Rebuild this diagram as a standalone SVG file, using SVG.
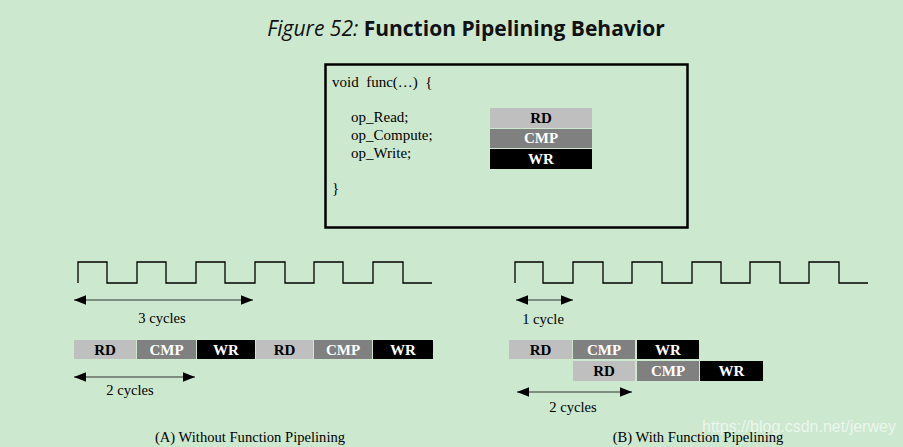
<svg xmlns="http://www.w3.org/2000/svg" width="903" height="447" viewBox="0 0 903 447">
<style>
.t{font-family:"Liberation Serif","Times New Roman",serif;font-size:15px;fill:#000}
.c{font-family:"Liberation Serif","Times New Roman",serif;font-size:14.6px;fill:#000;text-anchor:middle}
.b{font-family:"Liberation Serif","Times New Roman",serif;font-size:15px;font-weight:bold;text-anchor:middle}
.rd{fill:#bfbfbf}.cmp{fill:#808080}.wr{fill:#000}
.clk{fill:none;stroke:#000;stroke-width:1.3}
.arr{stroke:#7f8c80;stroke-width:2;marker-start:url(#ah);marker-end:url(#ah)}
</style>
<defs>
<marker id="ah" viewBox="0 0 10 8" refX="10" refY="4" markerWidth="6" markerHeight="4.8" orient="auto-start-reverse" markerUnits="strokeWidth">
<path d="M0,0L10,4L0,8z" fill="#000"/>
</marker>
</defs>
<rect width="903" height="447" fill="#cce8cf"/>
<text x="466" y="36" text-anchor="middle" style="font-family:'Open Sans','Noto Sans',sans-serif;font-size:21px;fill:#111"><tspan font-style="italic">Figure 52: </tspan><tspan font-weight="bold">Function Pipelining Behavior</tspan></text>

<g id="code-box">
<rect x="325.5" y="64.5" width="362" height="163" fill="none" stroke="#000" stroke-width="2.5"/>
<text class="t" x="332" y="87" xml:space="preserve">void  func(…)  {</text>
<text class="t" x="351" y="122">op_Read;</text>
<text class="t" x="351" y="140">op_Compute;</text>
<text class="t" x="351" y="158">op_Write;</text>
<text class="t" x="332" y="193">}</text>
</g>
<g id="legend">
<rect class="rd" x="490" y="108" width="102" height="20"/><text class="b" x="541" y="122.5" fill="#000">RD</text>
<rect class="cmp" x="490" y="129" width="102" height="19"/><text class="b" x="541" y="143" fill="#fff">CMP</text>
<rect class="wr" x="490" y="149" width="102" height="20"/><text class="b" x="541" y="163.5" fill="#fff">WR</text>
</g>

<g id="clock-a">
<path class="clk" d="M78,283V262H107V283H137V262H166V283H196V262H225V283H255V262H285V283H314V262H343V283H373V262H403V283H432"/>
</g>
<g id="clock-b">
<path class="clk" d="M515,283V262H543V283H573V262H603V283H632V262H662V283H692V262H721V283H750V262H780V283H809V262H839V283H868"/>
</g>

<g id="connectors">
<line class="arr" x1="74" y1="300" x2="253" y2="300"/>
<line class="arr" x1="74" y1="377" x2="195" y2="377"/>
<line class="arr" x1="516" y1="300" x2="573" y2="300"/>
<line class="arr" x1="517" y1="392" x2="632" y2="392"/>
</g>

<g id="labels">
<text class="c" x="162" y="323">3 cycles</text>
<text class="c" x="130" y="395">2 cycles</text>
<text class="c" x="543" y="324">1 cycle</text>
<text class="c" x="573" y="412">2 cycles</text>
<text class="c" x="250" y="442">(A) Without Function Pipelining</text>
<text class="c" x="698" y="442">(B) With Function Pipelining</text>
</g>

<g id="pipeline-a">
<rect class="rd" x="74" y="340" width="62" height="19"/><text class="b" x="105" y="355" fill="#000">RD</text>
<rect class="cmp" x="137" y="340" width="59" height="19"/><text class="b" x="166.5" y="355" fill="#fff">CMP</text>
<rect class="wr" x="197" y="340" width="58" height="19"/><text class="b" x="226" y="355" fill="#fff">WR</text>
<rect class="rd" x="256" y="340" width="57" height="19"/><text class="b" x="284.5" y="355" fill="#000">RD</text>
<rect class="cmp" x="314" y="340" width="58" height="19"/><text class="b" x="343" y="355" fill="#fff">CMP</text>
<rect class="wr" x="373" y="340" width="60" height="19"/><text class="b" x="403" y="355" fill="#fff">WR</text>
</g>

<g id="pipeline-b">
<rect class="rd" x="509" y="340" width="63" height="19"/><text class="b" x="540.5" y="355" fill="#000">RD</text>
<rect class="cmp" x="573" y="340" width="62" height="19"/><text class="b" x="604" y="355" fill="#fff">CMP</text>
<rect class="wr" x="637" y="340" width="62" height="19"/><text class="b" x="668" y="355" fill="#fff">WR</text>
<rect class="rd" x="573" y="361" width="62" height="20"/><text class="b" x="604" y="376" fill="#000">RD</text>
<rect class="cmp" x="637" y="361" width="62" height="20"/><text class="b" x="668" y="376" fill="#fff">CMP</text>
<rect class="wr" x="700" y="361" width="63" height="20"/><text class="b" x="731.5" y="376" fill="#fff">WR</text>
</g>

<text x="702" y="432" style="font-family:'Liberation Sans',Arial,sans-serif;font-size:16px;fill:#fff;fill-opacity:0.65">https://blog.csdn.net/jerwey</text>
</svg>
